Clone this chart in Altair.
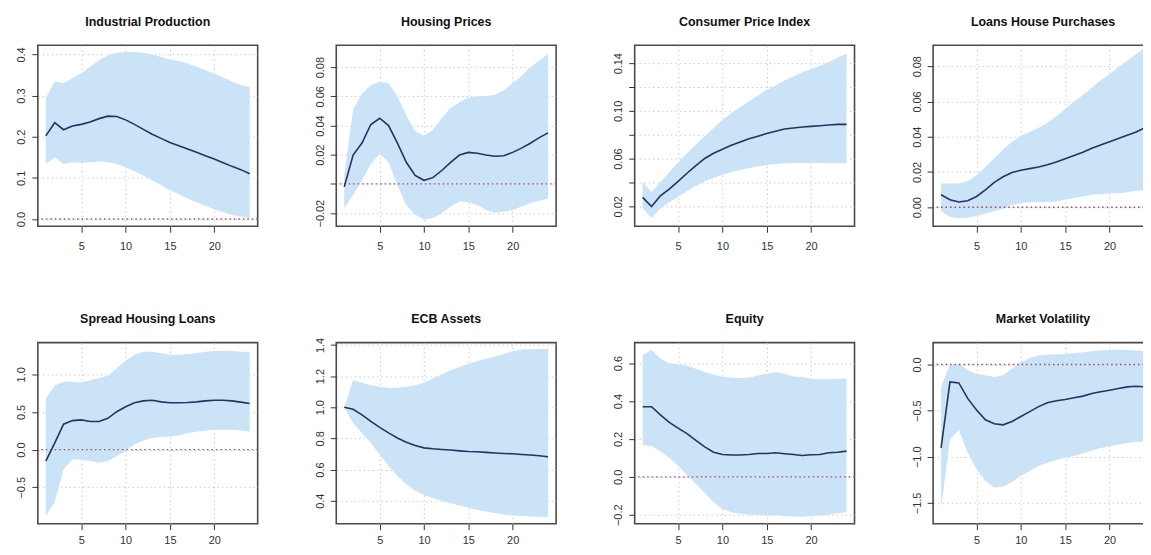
import altair as alt
import pandas as pd

horizon = list(range(1, 25))

titles = ["Industrial Production", "Housing Prices", "Consumer Price Index", "Loans House Purchases",
          "Spread Housing Loans", "ECB Assets", "Equity", "Market Volatility"]

ip_med = [0.202, 0.234, 0.217, 0.226, 0.230, 0.236, 0.244, 0.250, 0.249, 0.241, 0.230, 0.218,
          0.206, 0.196, 0.186, 0.178, 0.170, 0.162, 0.154, 0.146, 0.137, 0.128, 0.120, 0.110]
ip_hi = [0.294, 0.334, 0.330, 0.342, 0.354, 0.370, 0.386, 0.398, 0.404, 0.406, 0.406, 0.404,
         0.400, 0.394, 0.388, 0.384, 0.378, 0.370, 0.362, 0.353, 0.344, 0.334, 0.326, 0.321]
ip_lo = [0.134, 0.150, 0.134, 0.138, 0.137, 0.138, 0.140, 0.138, 0.134, 0.126, 0.116, 0.106,
         0.094, 0.082, 0.070, 0.060, 0.050, 0.041, 0.032, 0.024, 0.017, 0.010, 0.006, 0.002]

hp_med = [-0.002, 0.0198, 0.028, 0.0407, 0.045, 0.040, 0.028, 0.0148, 0.0058, 0.0025, 0.0043, 0.0092,
          0.0148, 0.0198, 0.0216, 0.021, 0.0198, 0.019, 0.0193, 0.0216, 0.0245, 0.0279, 0.0317, 0.035]
hp_hi = [0.006, 0.051, 0.062, 0.0676, 0.070, 0.069, 0.060, 0.047, 0.036, 0.033, 0.037, 0.045,
         0.052, 0.056, 0.059, 0.060, 0.060, 0.061, 0.064, 0.069, 0.074, 0.080, 0.0845, 0.089]
hp_lo = [-0.0166, -0.0076, 0.0025, 0.0137, 0.0205, 0.0148, -0.001, -0.0144, -0.021, -0.0245, -0.0234, -0.020,
         -0.0155, -0.012, -0.0126, -0.0144, -0.0178, -0.0196, -0.019, -0.0178, -0.0155, -0.0133, -0.0115, -0.0099]

cpi_med = [0.0274, 0.0197, 0.0288, 0.0343, 0.0409, 0.0477, 0.054, 0.0601, 0.0645, 0.0678, 0.0711, 0.0738,
           0.0766, 0.0788, 0.081, 0.0829, 0.0848, 0.0857, 0.0865, 0.087, 0.0876, 0.0881, 0.0887, 0.0887]
cpi_hi = [0.0403, 0.032, 0.0403, 0.0486, 0.0568, 0.0645, 0.0719, 0.0788, 0.0857, 0.0925, 0.098, 0.103,
          0.108, 0.113, 0.1178, 0.1214, 0.1255, 0.1288, 0.1324, 0.135, 0.1379, 0.141, 0.1447, 0.148]
cpi_lo = [0.0184, 0.0101, 0.0184, 0.0233, 0.028, 0.0326, 0.037, 0.0409, 0.0436, 0.0464, 0.0486, 0.0505,
          0.0521, 0.0535, 0.0546, 0.0554, 0.056, 0.0563, 0.0563, 0.0563, 0.0563, 0.056, 0.056, 0.056]

lhp_med = [0.0071, 0.0043, 0.003, 0.0037, 0.0061, 0.0098, 0.0141, 0.0173, 0.0197, 0.021, 0.0219, 0.0228,
           0.0241, 0.0256, 0.0275, 0.0293, 0.0312, 0.0334, 0.0353, 0.0371, 0.039, 0.0408, 0.0427, 0.0451]
lhp_hi = [0.0135, 0.0135, 0.0135, 0.0148, 0.0182, 0.0228, 0.0278, 0.0327, 0.0371, 0.0405, 0.0427, 0.0451,
          0.0479, 0.0516, 0.0557, 0.060, 0.0637, 0.0679, 0.072, 0.0754, 0.0794, 0.0831, 0.0869, 0.0906]
lhp_lo = [-0.0022, -0.0056, -0.0063, -0.0059, -0.005, -0.0037, -0.0022, -0.0009, 0.0011, 0.0024, 0.0028, 0.003,
          0.0028, 0.0033, 0.0043, 0.0052, 0.0061, 0.0071, 0.0074, 0.008, 0.008, 0.0085, 0.0093, 0.0098]

shl_med = [-0.153, 0.087, 0.337, 0.385, 0.394, 0.372, 0.372, 0.415, 0.503, 0.568, 0.621, 0.647,
           0.656, 0.634, 0.621, 0.621, 0.625, 0.634, 0.647, 0.656, 0.656, 0.647, 0.630, 0.612]
shl_hi = [0.68, 0.85, 0.90, 0.90, 0.89, 0.92, 0.95, 0.98, 1.08, 1.18, 1.26, 1.30,
          1.30, 1.28, 1.26, 1.26, 1.27, 1.28, 1.30, 1.31, 1.31, 1.31, 1.30, 1.30]
shl_lo = [-0.875, -0.70, -0.262, -0.131, -0.131, -0.153, -0.175, -0.153, -0.087, -0.02, 0.066, 0.122,
          0.153, 0.166, 0.175, 0.188, 0.219, 0.236, 0.249, 0.262, 0.262, 0.262, 0.254, 0.240]

ecb_med = [1.0, 0.987, 0.951, 0.909, 0.871, 0.835, 0.803, 0.775, 0.754, 0.739, 0.733, 0.729,
           0.725, 0.72, 0.716, 0.714, 0.71, 0.706, 0.703, 0.701, 0.697, 0.693, 0.689, 0.682]
ecb_hi = [1.0, 1.174, 1.157, 1.142, 1.131, 1.125, 1.125, 1.131, 1.142, 1.157, 1.184, 1.212,
          1.237, 1.258, 1.28, 1.297, 1.311, 1.326, 1.343, 1.36, 1.371, 1.375, 1.375, 1.375]
ecb_lo = [1.0, 0.898, 0.835, 0.771, 0.697, 0.623, 0.559, 0.506, 0.464, 0.436, 0.415, 0.40,
          0.383, 0.369, 0.354, 0.341, 0.331, 0.32, 0.311, 0.305, 0.301, 0.299, 0.297, 0.294]

eq_med = [0.37, 0.37, 0.327, 0.287, 0.257, 0.228, 0.193, 0.158, 0.130, 0.118, 0.115, 0.115,
          0.118, 0.123, 0.123, 0.127, 0.122, 0.118, 0.113, 0.117, 0.118, 0.127, 0.130, 0.136]
eq_hi = [0.64, 0.67, 0.623, 0.60, 0.593, 0.588, 0.570, 0.553, 0.539, 0.53, 0.523, 0.522,
         0.523, 0.536, 0.544, 0.553, 0.544, 0.53, 0.527, 0.518, 0.515, 0.515, 0.518, 0.518]
eq_lo = [0.17, 0.162, 0.136, 0.101, 0.057, 0.01, -0.038, -0.085, -0.134, -0.169, -0.186, -0.195,
         -0.20, -0.20, -0.203, -0.203, -0.207, -0.209, -0.21, -0.207, -0.203, -0.20, -0.191, -0.186]

mv_med = [-0.904, -0.189, -0.2, -0.368, -0.493, -0.60, -0.643, -0.654, -0.618, -0.564, -0.511, -0.457,
          -0.414, -0.393, -0.379, -0.361, -0.343, -0.314, -0.296, -0.279, -0.261, -0.243, -0.236, -0.243]
mv_hi = [-0.243, 0.0, 0.01, -0.064, -0.1, -0.118, -0.136, -0.118, -0.046, 0.025, 0.071, 0.096,
         0.107, 0.107, 0.114, 0.121, 0.132, 0.143, 0.15, 0.157, 0.16, 0.157, 0.15, 0.143]
mv_lo = [-1.564, -0.814, -0.707, -0.957, -1.136, -1.26, -1.332, -1.325, -1.271, -1.207, -1.154, -1.1,
         -1.064, -1.036, -1.011, -0.993, -0.964, -0.932, -0.904, -0.886, -0.868, -0.85, -0.839, -0.832]

x_ticks = [5, 10, 15, 20]

BAND = "#cbe3f6"
LINE = "#25335f"
ZERO = "#a0505a"
GRID = "#cccccc"
PW, PH = 221, 182


def panel(title, med, lo, hi, ydom, yvals, fmt, hidden=(), zero=True, xpad=8, toff=17):
    df = pd.DataFrame({"h": horizon, "med": med, "lo": lo, "hi": hi})
    xscale = alt.Scale(domain=[0.1, 24.9], nice=False, zero=False)
    yscale = alt.Scale(domain=ydom, nice=False, zero=False)
    label_expr = "datum.label"
    if hidden:
        cond = " || ".join([f"datum.label == '{h}'" for h in hidden])
        label_expr = f"({cond}) ? '' : datum.label"
    xaxis = alt.Axis(values=x_ticks, title=None, grid=True, labelPadding=xpad, labelOverlap=False)
    yaxis = alt.Axis(values=yvals, title=None, grid=True, format=fmt, labelAngle=270,
                     labelAlign="center", labelBaseline="bottom", labelPadding=5,
                     labelExpr=label_expr, labelOverlap=False, labelSeparation=-20)
    xenc = alt.X("h:Q", scale=xscale, axis=xaxis)
    base = alt.Chart(df)
    band = base.mark_area(color=BAND, opacity=1).encode(
        x=xenc,
        y=alt.Y("lo:Q", scale=yscale, axis=yaxis),
        y2="hi:Q",
    )
    line = base.mark_line(color=LINE, strokeWidth=1.6).encode(
        x=xenc, y=alt.Y("med:Q", scale=yscale, axis=yaxis)
    )
    layers = [band]
    if zero:
        zdf = pd.DataFrame({"z": [0.0]})
        rule = alt.Chart(zdf).mark_rule(color=ZERO, strokeDash=[1.5, 3], strokeWidth=1.4).encode(
            y=alt.Y("z:Q", scale=yscale, axis=yaxis)
        )
        layers.append(rule)
    layers.append(line)
    return alt.layer(*layers).properties(
        width=PW, height=PH, title=alt.TitleParams(text=title, offset=toff)
    )


panels = [
    panel(titles[0], ip_med, ip_lo, ip_hi, [-0.0176, 0.4224], [0.0, 0.1, 0.2, 0.3, 0.4], ".1f"),
    panel(titles[1], hp_med, hp_lo, hp_hi, [-0.029, 0.095], [-0.02, 0.0, 0.02, 0.04, 0.06, 0.08], ".2f",
          hidden=("0.00",)),
    panel(titles[2], cpi_med, cpi_lo, cpi_hi, [0.0032, 0.1551],
          [0.02, 0.04, 0.06, 0.08, 0.10, 0.12, 0.14], ".2f", hidden=("0.04", "0.08", "0.12"), zero=False),
    panel(titles[3], lhp_med, lhp_lo, lhp_hi, [-0.0108, 0.0919], [0.0, 0.02, 0.04, 0.06, 0.08], ".2f"),
    panel(titles[4], shl_med, shl_lo, shl_hi, [-0.984, 1.42], [-0.5, 0.0, 0.5, 1.0], ".1f", xpad=5),
    panel(titles[5], ecb_med, ecb_lo, ecb_hi, [0.252, 1.415], [0.4, 0.6, 0.8, 1.0, 1.2, 1.4], ".1f",
          zero=False, xpad=5, toff=12),
    panel(titles[6], eq_med, eq_lo, eq_hi, [-0.247, 0.708], [-0.2, 0.0, 0.2, 0.4, 0.6], ".1f", xpad=5),
    panel(titles[7], mv_med, mv_lo, mv_hi, [-1.725, 0.236], [-1.5, -1.0, -0.5, 0.0], ".1f", xpad=5),
]

chart = alt.concat(*panels, columns=4, spacing={"row": 117, "column": 79}, bounds="flush").properties(
    padding={"left": 7, "top": 5, "right": -12, "bottom": -2}, background="white"
).configure_view(
    stroke="#4a4a4a", strokeWidth=1.6
).configure_axis(
    domain=False, tickSize=6, tickColor="#333333", tickWidth=1,
    labelFont="Liberation Sans", labelFontSize=11, labelColor="#333333",
    gridColor=GRID, gridDash=[1.5, 3], gridWidth=1, labelOverlap=False,
).configure_title(
    font="Liberation Sans", fontSize=12.5, fontWeight="bold", color="#111111", anchor="middle"
)

chart.save("out.html", embed_options={"renderer": "svg", "actions": False})
